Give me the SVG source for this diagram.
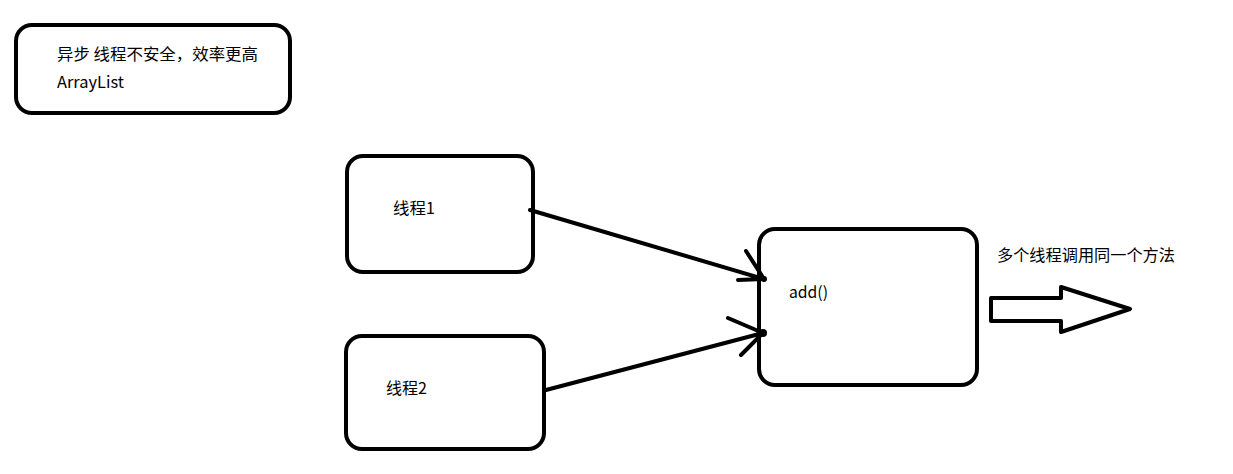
<svg xmlns="http://www.w3.org/2000/svg" width="1233" height="474" viewBox="0 0 1233 474">
<style>
.box{fill:#fff;stroke:#000;stroke-width:4}
.t{font-family:"Noto Sans CJK SC","Microsoft YaHei","Noto Sans",sans-serif;font-size:16px;fill:#000}
.c{fill:none;stroke:#000;stroke-width:4;stroke-linecap:round;stroke-linejoin:round}
</style>
<rect width="1233" height="474" fill="#fff"/>
<g id="note">
<rect class="box" x="16" y="25" width="274" height="88" rx="16"/>
<text class="t" x="57" y="60" textLength="201" lengthAdjust="spacingAndGlyphs">异步 线程不安全，效率更高</text>
<text class="t" x="57" y="88" textLength="67" lengthAdjust="spacingAndGlyphs">ArrayList</text>
</g>
<g id="thread1">
<rect class="box" x="347" y="156" width="186" height="116" rx="16"/>
<text class="t" x="393" y="214" textLength="42" lengthAdjust="spacingAndGlyphs">线程1</text>
</g>
<g id="thread2">
<rect class="box" x="346" y="336" width="198" height="113" rx="16"/>
<text class="t" x="386" y="394" textLength="41" lengthAdjust="spacingAndGlyphs">线程2</text>
</g>
<g id="add">
<rect class="box" x="759" y="229" width="218" height="156" rx="16"/>
<text class="t" x="789" y="298" textLength="39" lengthAdjust="spacingAndGlyphs">add()</text>
</g>
<g id="label">
<text class="t" x="997" y="261" textLength="178" lengthAdjust="spacingAndGlyphs">多个线程调用同一个方法</text>
</g>
<g id="connectors">
<path class="c" d="M530 210 L764 279 M746 251 L764 279 L738 280"/>
<path class="c" d="M546 390 L763 333 M728 318 L763 333 L741 355"/>
<circle cx="764" cy="279" r="3"/>
<circle cx="763" cy="333" r="4"/>
<polygon class="c" points="991,298 1061,298 1061,287 1130,309 1061,332 1061,321 991,321"/>
</g>
</svg>
